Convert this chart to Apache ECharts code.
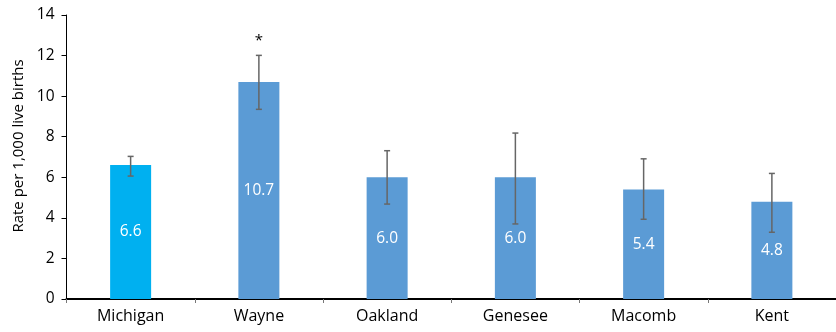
<!DOCTYPE html>
<html><head><meta charset="utf-8">
<script src="https://cdn.jsdelivr.net/npm/echarts@6/dist/echarts.min.js"></script>
<style>html,body{margin:0;padding:0;background:#fff}#c{width:836px;height:332px}</style>
</head><body><div id="c"></div>
<script>
const categories = ['Michigan', 'Wayne', 'Oakland', 'Genesee', 'Macomb', 'Kent'];
const rates = [6.6, 10.7, 6.0, 6.0, 5.4, 4.8];
const lower = [6.06, 9.35, 4.68, 3.70, 3.93, 3.29];
const upper = [7.03, 12.01, 7.31, 8.18, 6.91, 6.19];
const significant = [false, true, false, false, false, false];
const yTicks = [0, 2, 4, 6, 8, 10, 12, 14];

const FONT = 'Open Sans';
const chart = echarts.init(document.getElementById('c'));
chart.setOption({
  animation: false,
  grid: { left: 66.5, top: 15, bottom: 33, right: -7 },
  xAxis: {
    type: 'category', data: categories,
    axisLine: { lineStyle: { color: '#000', width: 2 } },
    axisTick: { show: true, length: 4, lineStyle: { color: '#777' } },
    axisLabel: { color: '#000', fontSize: 16, fontFamily: FONT, margin: 9 }
  },
  yAxis: {
    type: 'value', min: yTicks[0], max: yTicks[yTicks.length - 1], interval: 2,
    name: 'Rate per 1,000 live births', nameLocation: 'middle', nameGap: 36,
    nameTextStyle: { color: '#000', fontSize: 15, fontFamily: FONT, padding: [0, 0, 0, 22] },
    axisLine: { show: true, lineStyle: { color: '#000', width: 1 } },
    axisTick: { show: true, length: 5, lineStyle: { color: '#000' } },
    axisLabel: { color: '#000', fontSize: 15.5, fontFamily: FONT, margin: 12 },
    splitLine: { show: false }
  },
  series: [
    {
      type: 'bar', barWidth: 41,
      data: rates.map((v, i) => ({ value: v, itemStyle: { color: i === 0 ? '#00B0F0' : '#5B9BD5' } })),
      label: { show: true, position: 'inside', color: '#fff', fontSize: 15.5, fontFamily: FONT,
               formatter: p => p.value.toFixed(1) }
    },
    {
      type: 'custom', z: 10,
      data: categories.map((c, i) => [i, lower[i], upper[i], significant[i] ? 1 : 0]),
      renderItem: (params, api) => {
        const x = api.value(0);
        const lo = api.coord([x, api.value(1)]);
        const hi = api.coord([x, api.value(2)]);
        const cap = 3;
        const st = { stroke: '#666', lineWidth: 1.5 };
        const children = [
          { type: 'line', shape: { x1: lo[0], y1: lo[1], x2: hi[0], y2: hi[1] }, style: st },
          { type: 'line', shape: { x1: lo[0] - cap, y1: lo[1], x2: lo[0] + cap, y2: lo[1] }, style: st },
          { type: 'line', shape: { x1: hi[0] - cap, y1: hi[1], x2: hi[0] + cap, y2: hi[1] }, style: st }
        ];
        if (api.value(3)) {
          children.push({ type: 'text', x: hi[0], y: hi[1] - 15,
            style: { text: '*', fill: '#000', font: '15px ' + FONT, textAlign: 'center', textVerticalAlign: 'middle' } });
        }
        return { type: 'group', children };
      }
    }
  ]
});
</script></body></html>
